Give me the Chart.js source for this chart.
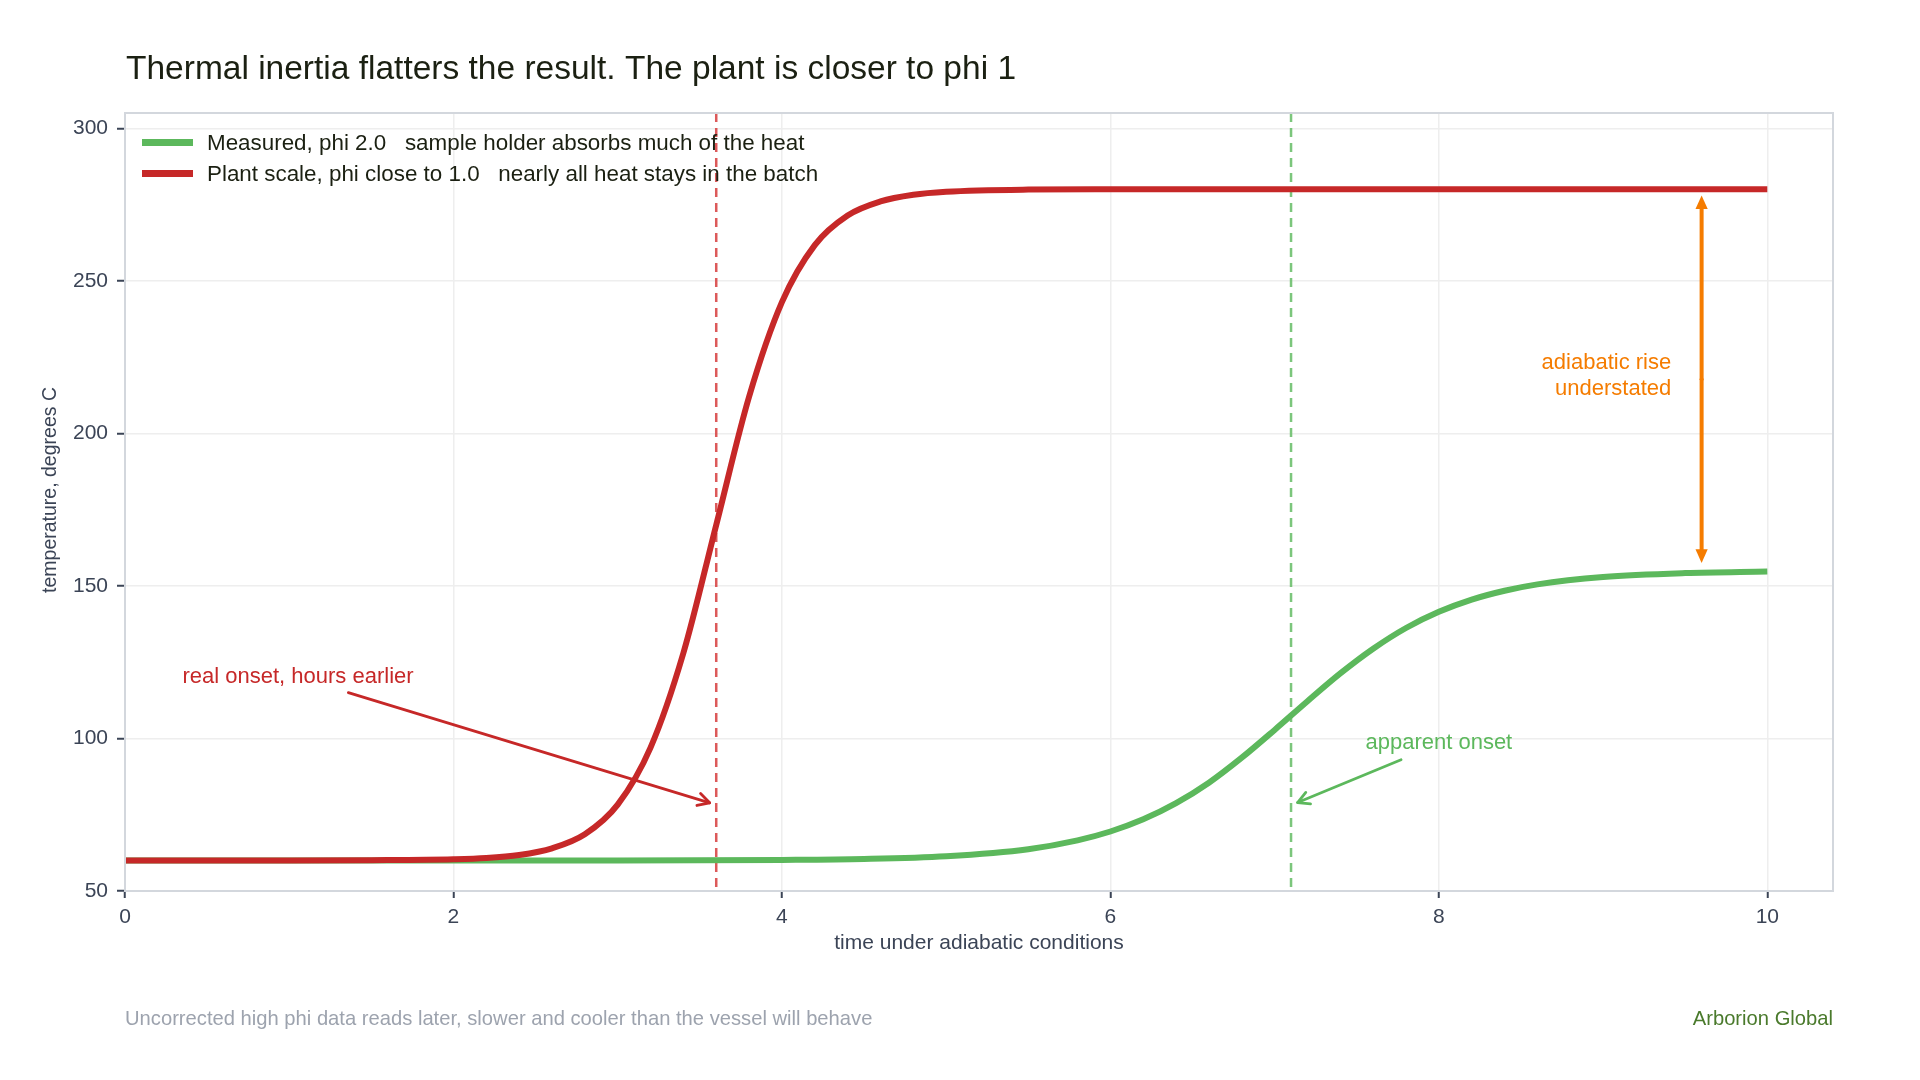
<!DOCTYPE html>
<html>
<head>
<meta charset="utf-8">
<title>Thermal inertia</title>
<script src="https://cdn.jsdelivr.net/npm/chart.js@4/dist/chart.umd.min.js"></script>
<style>
  html, body { margin: 0; padding: 0; background: #ffffff; }
  #wrap { width: 1920px; height: 1080px; }
</style>
</head>
<body>
<div id="wrap"><canvas id="chart"></canvas></div>
<script>
// values
const measuredTime = [0, 1, 2, 3, 4, 4.5, 5, 5.5, 5.8, 6, 6.2, 6.4, 6.6, 6.8, 7.0, 7.2, 7.4, 7.6, 7.8, 8.0, 8.2, 8.4, 8.6, 9, 9.5, 10];
const measuredTemp = [60, 60, 60, 60, 60.2, 60.5, 61.4, 63.7, 66.6, 69.5, 73.5, 78.8, 85.5, 93.7, 102.8, 112.2, 121.3, 129.4, 136.2, 141.5, 145.5, 148.4, 150.5, 152.9, 154.2, 154.7];

const plantTime = [0, 1, 1.5, 2, 2.2, 2.4, 2.6, 2.8, 3.0, 3.2, 3.4, 3.6, 3.8, 4.0, 4.2, 4.4, 4.6, 4.8, 5.0, 5.5, 6, 7, 8, 9, 10];
const plantTemp = [60, 60, 60.1, 60.4, 60.8, 61.8, 64, 68.6, 78.3, 97, 128, 170, 212, 243, 261.7, 271.4, 276, 278.2, 279.2, 279.9, 280, 280, 280, 280, 280];

const seriesLabels = [
  'Measured, phi 2.0   sample holder absorbs much of the heat',
  'Plant scale, phi close to 1.0   nearly all heat stays in the batch'
];
const onsetTimes = [3.6, 7.1];   // real onset, apparent onset
const xTicks = [0, 2, 4, 6, 8, 10];
const yTicks = [50, 100, 150, 200, 250, 300];

const FONT = '"Liberation Sans", Arial, Helvetica, sans-serif';
const GREEN = '#5cb85c';
const RED = '#c62828';
const ORANGE = '#f57c00';
const INK = '#3b4456';

Chart.defaults.font.family = FONT;

function toPoints(xs, ys) {
  return xs.map((v, i) => ({ x: v, y: ys[i] }));
}

function arrow(ctx, x1, y1, x2, y2, color, width, filled) {
  const ang = Math.atan2(y2 - y1, x2 - x1);
  const len = filled ? 15 : 13;
  const spread = filled ? 0.42 : 0.5;
  ctx.strokeStyle = color;
  ctx.fillStyle = color;
  ctx.lineWidth = width;
  ctx.lineCap = 'round';
  ctx.lineJoin = 'round';
  ctx.beginPath();
  ctx.moveTo(x1, y1);
  if (filled) {
    ctx.lineTo(x2 - Math.cos(ang) * len * 0.8, y2 - Math.sin(ang) * len * 0.8);
  } else {
    ctx.lineTo(x2, y2);
  }
  ctx.stroke();
  ctx.beginPath();
  ctx.moveTo(x2 - len * Math.cos(ang - spread), y2 - len * Math.sin(ang - spread));
  ctx.lineTo(x2, y2);
  ctx.lineTo(x2 - len * Math.cos(ang + spread), y2 - len * Math.sin(ang + spread));
  if (filled) {
    ctx.closePath();
    ctx.fill();
  } else {
    ctx.stroke();
  }
}

const decorations = {
  id: 'decorations',
  beforeDatasetsDraw(chart) {
    const { ctx, chartArea: a, scales: { x } } = chart;
    const colors = ['rgba(214, 60, 60, 0.85)', 'rgba(110, 192, 110, 0.9)'];
    ctx.save();
    ctx.setLineDash([9, 6]);
    ctx.lineWidth = 2.5;
    onsetTimes.forEach((t, i) => {
      const px = x.getPixelForValue(t);
      ctx.strokeStyle = colors[i];
      ctx.beginPath();
      ctx.moveTo(px, a.top);
      ctx.lineTo(px, a.bottom);
      ctx.stroke();
    });
    ctx.restore();
  },
  afterDatasetsDraw(chart) {
    const { ctx, chartArea: a, scales: { x, y } } = chart;
    ctx.save();

    // plot frame
    ctx.strokeStyle = '#d3d7dd';
    ctx.lineWidth = 2;
    ctx.strokeRect(a.left, a.top, a.right - a.left, a.bottom - a.top);

    // legend inside the plot
    ctx.font = '22.4px ' + FONT;
    ctx.textBaseline = 'middle';
    ctx.textAlign = 'left';
    chart.data.datasets.forEach((ds, i) => {
      const yy = a.top + 29.5 + i * 31;
      ctx.strokeStyle = ds.borderColor;
      ctx.lineWidth = 7;
      ctx.lineCap = 'butt';
      ctx.beginPath();
      ctx.moveTo(a.left + 17, yy);
      ctx.lineTo(a.left + 68, yy);
      ctx.stroke();
      ctx.fillStyle = '#1b2012';
      ctx.fillText(ds.label, a.left + 82, yy + 1);
    });

    // real onset note
    ctx.font = '22px ' + FONT;
    ctx.fillStyle = RED;
    ctx.textAlign = 'left';
    ctx.fillText('real onset, hours earlier', x.getPixelForValue(0.35), y.getPixelForValue(120.2));
    arrow(ctx, x.getPixelForValue(1.36), y.getPixelForValue(115), x.getPixelForValue(3.56), y.getPixelForValue(78.9), RED, 2.8, false);

    // apparent onset note
    ctx.fillStyle = GREEN;
    ctx.textAlign = 'center';
    ctx.fillText('apparent onset', x.getPixelForValue(8.0), y.getPixelForValue(98.6));
    arrow(ctx, x.getPixelForValue(7.77), y.getPixelForValue(93), x.getPixelForValue(7.14), y.getPixelForValue(79), GREEN, 2.8, false);

    // adiabatic rise gap
    const ax = x.getPixelForValue(9.6);
    const yTop = y.getPixelForValue(278);
    const yBot = y.getPixelForValue(157.5);
    const yMid = (yTop + yBot) / 2;
    arrow(ctx, ax, yMid, ax, yTop, ORANGE, 4, true);
    arrow(ctx, ax, yMid, ax, yBot, ORANGE, 4, true);
    ctx.fillStyle = ORANGE;
    ctx.textAlign = 'right';
    ctx.fillText('adiabatic rise', x.getPixelForValue(9.415), y.getPixelForValue(223.2));
    ctx.fillText('understated', x.getPixelForValue(9.415), y.getPixelForValue(214.4));

    ctx.restore();
  },
  afterDraw(chart) {
    const { ctx, chartArea: a } = chart;
    ctx.save();
    ctx.textBaseline = 'alphabetic';
    ctx.textAlign = 'left';
    ctx.fillStyle = '#1b2012';
    ctx.font = '33.5px ' + FONT;
    ctx.fillText('Thermal inertia flatters the result. The plant is closer to phi 1', a.left + 1, 79);

    // y axis title
    ctx.save();
    ctx.translate(51, 490);
    ctx.rotate(-Math.PI / 2);
    ctx.textAlign = 'center';
    ctx.textBaseline = 'middle';
    ctx.fillStyle = INK;
    ctx.font = '19.5px ' + FONT;
    ctx.fillText('temperature, degrees C', 0, 0);
    ctx.restore();

    ctx.textBaseline = 'middle';
    ctx.font = '20.2px ' + FONT;
    ctx.fillStyle = '#9da3ae';
    ctx.fillText('Uncorrected high phi data reads later, slower and cooler than the vessel will behave', a.left, 1019);
    ctx.textAlign = 'right';
    ctx.fillStyle = '#4a7a2c';
    ctx.fillText('Arborion Global', a.right, 1019);
    ctx.restore();
  }
};

new Chart(document.getElementById('chart'), {
  type: 'line',
  data: {
    datasets: [
      {
        label: seriesLabels[0],
        data: toPoints(measuredTime, measuredTemp),
        borderColor: GREEN,
        borderWidth: 6,
        pointRadius: 0,
        cubicInterpolationMode: 'monotone',
        fill: false,
        order: 1
      },
      {
        label: seriesLabels[1],
        data: toPoints(plantTime, plantTemp),
        borderColor: RED,
        borderWidth: 6,
        pointRadius: 0,
        cubicInterpolationMode: 'monotone',
        fill: false,
        order: 0
      }
    ]
  },
  options: {
    responsive: true,
    maintainAspectRatio: false,
    devicePixelRatio: 1,
    animation: false,
    layout: { padding: { left: 38, right: 87, top: 113, bottom: 124 } },
    plugins: {
      legend: { display: false },
      title: { display: false },
      tooltip: { enabled: false }
    },
    scales: {
      x: {
        type: 'linear',
        min: 0,
        max: 10.4,
        afterFit(scale) { scale.height = 65; },
        afterBuildTicks(scale) { scale.ticks = xTicks.map(v => ({ value: v })); },
        ticks: {
          includeBounds: false,
          color: INK,
          font: { size: 21 },
          padding: 7
        },
        grid: {
          color: '#eeeeee',
          lineWidth: 1.5,
          tickLength: 7,
          tickColor: INK,
          tickWidth: 2
        },
        border: { color: '#d3d7dd', width: 2 },
        title: {
          display: true,
          text: 'time under adiabatic conditions',
          color: INK,
          font: { size: 21 },
          padding: 0
        }
      },
      y: {
        type: 'linear',
        min: 50,
        max: 305,
        afterFit(scale) { scale.width = 87; },
        afterBuildTicks(scale) { scale.ticks = yTicks.map(v => ({ value: v })); },
        ticks: {
          includeBounds: false,
          color: INK,
          font: { size: 21 },
          padding: 9
        },
        grid: {
          color: '#eeeeee',
          lineWidth: 1.5,
          tickLength: 8,
          tickColor: INK,
          tickWidth: 2
        },
        border: { color: '#d3d7dd', width: 2 },
        title: { display: false }
      }
    }
  },
  plugins: [decorations]
});
</script>
</body>
</html>
